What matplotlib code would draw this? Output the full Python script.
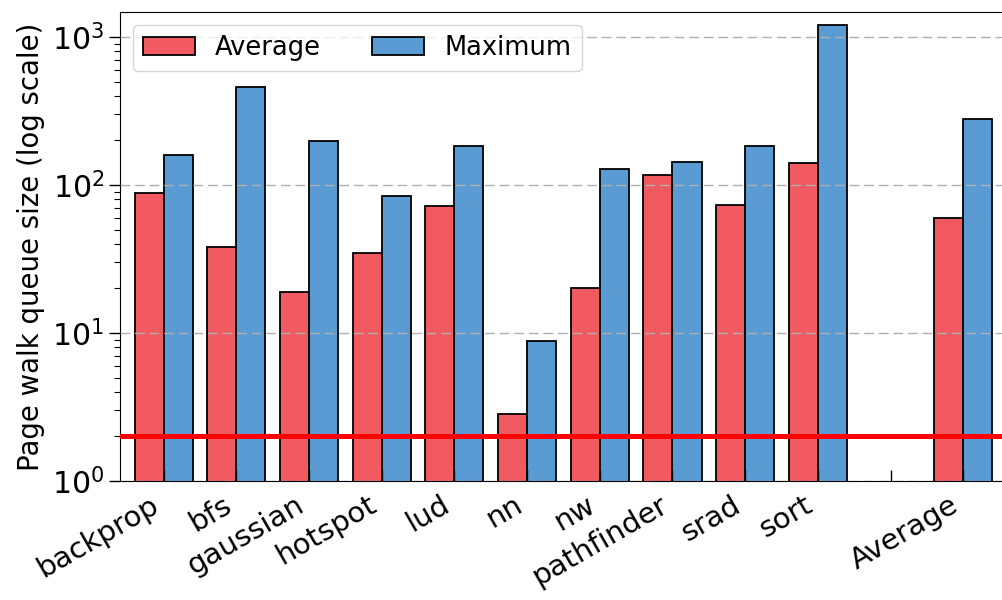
import numpy as np
import matplotlib
matplotlib.use('Agg')
import matplotlib.pyplot as plt

# benchmark names; '' is the empty slot before the overall average
benchmarks = ['backprop', 'bfs', 'gaussian', 'hotspot', 'lud', 'nn', 'nw',
              'pathfinder', 'srad', 'sort', '', 'Average']
avg_queue = [88, 38, 19, 34.5, 72, 2.85, 20, 116, 73, 140, np.nan, 60]
max_queue = [160, 463, 198, 84, 184, 8.9, 128, 144, 184, 1210, np.nan, 278]
threshold = 2

plt.rcParams['font.family'] = ['DejaVu Sans']
plt.rcParams['font.size'] = 18

fig = plt.figure(figsize=(10.02, 6.0), dpi=100)
ax = fig.add_axes([0.1198, 0.1983, 0.885, 0.7817])

x = np.arange(len(benchmarks))
w = 0.4
ax.bar(x - w / 2, avg_queue, w, color='#F15A60', edgecolor='black', linewidth=1.3, label='Average')
ax.bar(x + w / 2, max_queue, w, color='#5A9BD4', edgecolor='black', linewidth=1.3, label='Maximum')
ax.axhline(threshold, color='#ff0000', linewidth=3.6, zorder=4)

ax.set_yscale('log')
ax.set_ylim(1, 1476)
ax.set_xlim(-0.6, 11.6)
ax.set_axisbelow(False)
ax.yaxis.grid(True, which='major', color='#b0b0b0', linestyle=(0, (7, 3.5)), linewidth=1.0)

ax.set_xticks(x)
ax.set_xticklabels(benchmarks, rotation=30, ha='right', fontsize=21)
ax.tick_params(axis='x', direction='in', length=8, width=1, pad=7)
ax.tick_params(axis='y', which='major', direction='out', length=8, width=1, labelsize=21.5)
ax.tick_params(axis='y', which='minor', direction='out', length=4.5, width=0.8)
ax.set_ylabel('Page walk queue size (log scale)', fontsize=19.8, labelpad=5)

ax.legend(loc='upper left', ncol=2, fontsize=18.5)

fig.savefig('out.png', dpi=100)
